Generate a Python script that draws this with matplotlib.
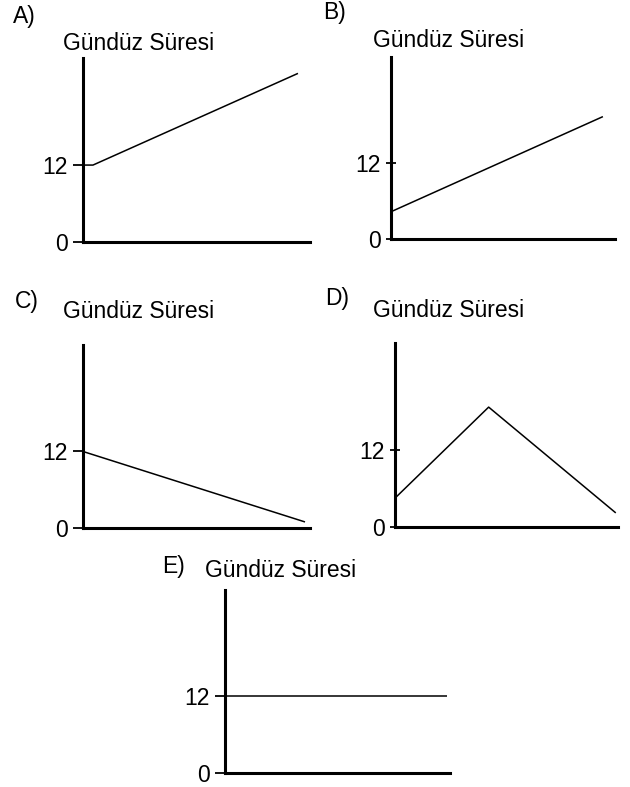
import matplotlib
matplotlib.use('Agg')
import matplotlib.pyplot as plt

plt.rcParams['font.family'] = ['Liberation Sans', 'DejaVu Sans']

W, H = 630, 787
title = 'Gündüz Süresi'
y_top = 28.7

# (x: 0..100 along the axis, y: hours)
a_x = [0, 4.4, 94.7]
a_y = [12, 12, 26.3]
b_x = [0, 94.6]
b_y = [4.3, 19.3]
c_x = [0, 97.8]
c_y = [12, 0.95]
d_x = [0, 42, 99]
d_y = [4.5, 18.7, 2.2]
e_x = [0, 98.7]
e_y = [12, 12]

tick_vals = [0, 12]
tick_labels = ['0', '12']

# panel boxes in pixels: y-axis x, x-axis end, baseline y, top y
panels = [
    ('A)', a_x, a_y, (83, 310, 242, 58), (13, 23), (63, 50), 'out'),
    ('B)', b_x, b_y, (391, 615, 239, 57), (323, 19), (373, 47), 'inout'),
    ('C)', c_x, c_y, (83, 310, 528, 345), (15, 308), (63, 318), 'out'),
    ('D)', d_x, d_y, (395, 618, 527, 343), (325, 305), (373, 317), 'inout'),
    ('E)', e_x, e_y, (225, 450, 773, 590), (162, 573), (205, 577), 'out'),
]

fig = plt.figure(figsize=(W / 100, H / 100), dpi=100)

for letter, xs, ys, box, lpos, tpos, tdir in panels:
    x0, x1, yb, yt = box
    ax = fig.add_axes([x0 / W, 1 - yb / H, (x1 - x0) / W, (yb - yt) / H])
    ax.plot(xs, ys, color='black', lw=1.1, solid_capstyle='butt')
    ax.set_xlim(0, 100)
    ax.set_ylim(0, y_top)
    for s in ['top', 'right']:
        ax.spines[s].set_visible(False)
    for s in ['left', 'bottom']:
        ax.spines[s].set_linewidth(2.2)
        ax.spines[s].set_color('black')
    ax.set_xticks([])
    ax.set_yticks(tick_vals)
    ax.set_yticklabels(tick_labels, fontsize=16.5)
    ax.tick_params(axis='y', direction=tdir, length=7, width=1.3, pad=4)
    ax.patch.set_visible(False)

    fig.text(lpos[0] / W, 1 - lpos[1] / H, letter, fontsize=16.5,
             ha='left', va='baseline')
    fig.text(tpos[0] / W, 1 - tpos[1] / H, title, fontsize=16.5,
             ha='left', va='baseline')

fig.savefig('out.png', dpi=100)
